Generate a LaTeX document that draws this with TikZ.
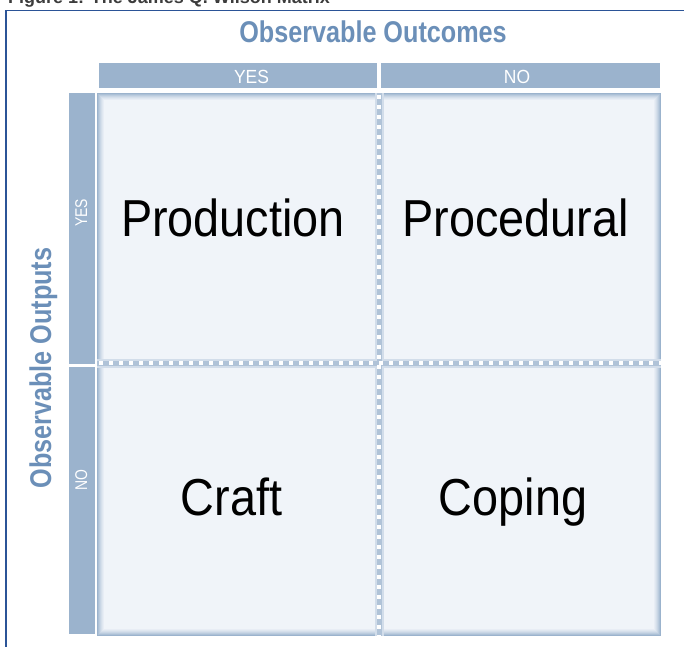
\documentclass[tikz,border=0pt]{standalone}
\usepackage{fontspec}
\setmainfont{Liberation Sans}
\newfontfamily\cellfont[FakeStretch=0.9]{Liberation Sans}
\newfontfamily\headfont[FakeStretch=0.84]{Liberation Sans}
\newfontfamily\labfont[FakeStretch=0.92]{Liberation Sans}
\newfontfamily\sidefont[FakeStretch=0.82]{Liberation Sans}
\usetikzlibrary{positioning}
\definecolor{barblue}{HTML}{9BB3CD}
\definecolor{titleblue}{HTML}{6B8FB8}
\definecolor{cellfill}{HTML}{F0F4F9}
\definecolor{frameblue}{HTML}{2B5497}
\definecolor{capgray}{HTML}{3C3C3C}
\tikzstyle{bar} = [fill=barblue, inner sep=0pt]
\tikzstyle{barlabel} = [text=white, inner sep=0pt, anchor=base, font=\labfont\fontsize{19}{19}\selectfont]
\tikzstyle{sidelabel} = [text=white, inner sep=0pt, anchor=base, rotate=90, font=\sidefont\fontsize{17}{17}\selectfont]
\tikzstyle{axistitle} = [text=titleblue, inner sep=0pt, anchor=base, font=\headfont\bfseries\fontsize{30}{30}\selectfont]
\tikzstyle{celltext} = [inner sep=0pt, anchor=base, font=\cellfont\fontsize{52}{52}\selectfont]

\begin{document}
\begin{tikzpicture}[x=1pt, y=-1pt]
			\clip (0,0) rectangle (684,646);
			\useasboundingbox (0,0) rectangle (684,646);
			% caption cut off at the top
			\node[text=capgray, anchor=base west, inner sep=0pt, font=\bfseries\fontsize{18}{18}\selectfont] (caption) at (8,3) {Figure 1: The James Q. Wilson Matrix};
			\draw[frameblue, line width=1.5pt] (6,700) -- (6,10.5) -- (700,10.5);
			
			% panel with soft edge
			\fill[cellfill] (97,93) rectangle (661,636);
			\foreach \i/\c in {0.5/100, 1.5/80, 2.5/62, 3.5/46, 4.5/32, 5.5/20, 6.5/10}
				\draw[barblue!\c!cellfill, line width=1pt] (97+\i,93+\i) rectangle (661-\i,636-\i);
			
			% dividers
			\draw[barblue!35!cellfill, line width=9pt] (379,93) -- (379,636);
			\draw[barblue!35!cellfill, line width=9pt] (97,363) -- (661,363);
			\draw[barblue!75!cellfill, line width=5pt] (379,93) -- (379,636);
			\draw[barblue!75!cellfill, line width=5pt] (97,363) -- (661,363);
			\draw[white, line width=4pt, dash pattern=on 4pt off 6pt] (379,95) -- (379,636);
			\draw[white, line width=4pt, dash pattern=on 4pt off 6pt] (99,363) -- (661,363);
			
			% header bars
			\node[bar, minimum width=278pt, minimum height=25pt] (top yes) at (238,75.5) {};
			\node[bar, minimum width=279pt, minimum height=25pt] (top no) at (520.5,75.5) {};
			\node[bar, minimum width=271pt, minimum height=26pt, rotate=90] (side yes) at (82,228.5) {};
			\node[bar, minimum width=267pt, minimum height=26pt, rotate=90] (side no) at (82,500.5) {};
			\node[barlabel] (top yes label) at (251.5,83) {YES};
			\node[barlabel] (top no label) at (517,83) {NO};
			\node[sidelabel] (side yes label) at (87,213) {YES};
			\node[sidelabel] (side no label) at (87,480) {NO};
			
			% axis titles
			\node[axistitle] (outcomes) at (373,42) {Observable Outcomes};
			\node[axistitle, rotate=90] (outputs) at (51,368) {Observable Outputs};
			
			% quadrants
			\node[celltext] (production) at (233,236) {Production};
			\node[celltext] (procedural) at (515.5,236) {Procedural};
			\node[celltext] (craft) at (231.5,515) {Craft};
			\node[celltext] (coping) at (513,515) {Coping};
		\end{tikzpicture}
\end{document}
